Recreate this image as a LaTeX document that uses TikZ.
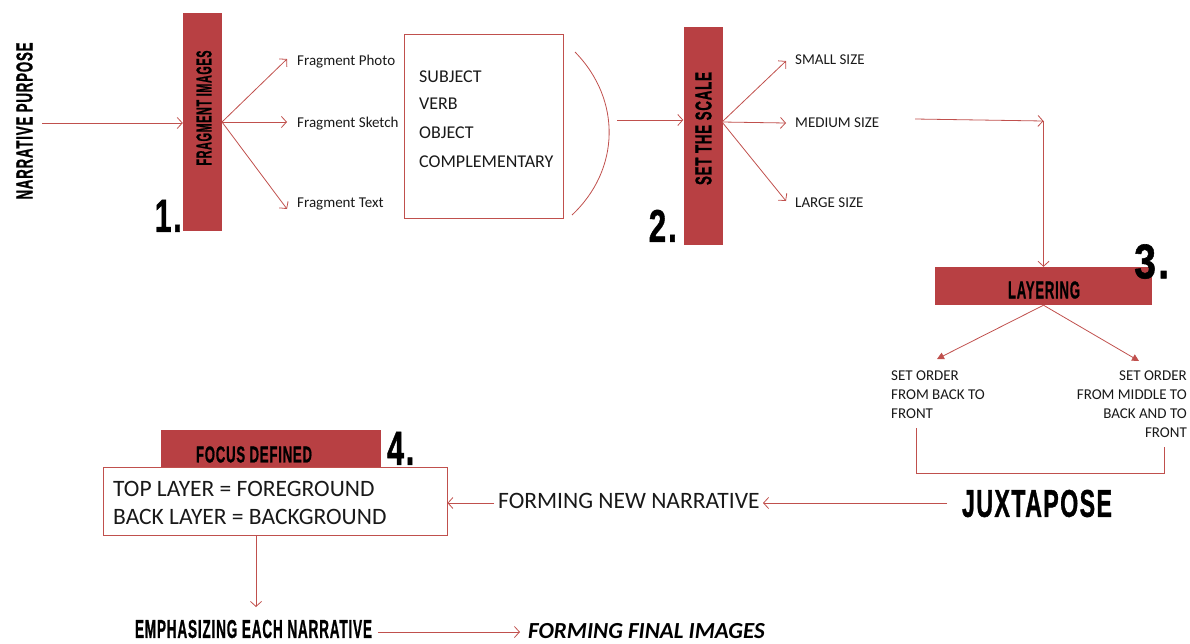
\documentclass[tikz,border=0pt]{standalone}
\usepackage{fontspec}
\setmainfont{Carlito}
\newfontfamily\headf{Liberation Sans}[LetterSpace=6,BoldFeatures={FakeBold=1.2}]
\usetikzlibrary{arrows.meta}
\definecolor{barred}{RGB}{184,64,67}
\definecolor{linered}{RGB}{192,80,77}
\definecolor{txt}{RGB}{25,25,25}
\newcommand{\hd}[3]{\resizebox{#1pt}{#2pt}{\headf\bfseries #3}}
\begin{document}
\begin{tikzpicture}[x=1pt,y=-1pt,
  conn/.style={draw=linered, line width=0.8pt, -{Straight Barb[length=5pt,width=11pt]}},
  tri/.style={draw=linered, line width=0.8pt, -{Triangle[length=7pt,width=7pt]}},
  plain/.style={draw=linered, line width=0.8pt},
  bar/.style={fill=barred, draw=none, inner sep=0pt},
  rbox/.style={draw=linered, line width=0.8pt, inner sep=0pt},
  lbl/.style={inner sep=0pt, text=txt, font=\fontsize{15}{19}\selectfont},
  big/.style={inner sep=0pt, text=txt, font=\fontsize{18}{28}\selectfont},
  huge/.style={inner sep=0pt, text=txt, font=\fontsize{23.5}{28}\selectfont},
  hdg/.style={inner sep=0pt, text=black}]
\useasboundingbox (0,0) rectangle (1190,643);

% ---- step 1
\node[hdg, rotate=90] (np) at (24.5,121) {\hd{157}{16}{NARRATIVE PURPOSE}};
\node[bar, minimum width=39pt, minimum height=218pt] (b1) at (202.5,122) {};
\node[hdg, rotate=90] (t1) at (204,108) {\hd{115}{15}{FRAGMENT IMAGES}};
\node[hdg, anchor=south east] (n1) at (182,232) {\hd{27}{32}{1.}};
\coordinate (npE) at (42,123);
\coordinate (b1W) at (b1.west |- npE);
\draw[conn] (npE) -- (b1W);
\coordinate (b1E) at (222,122);
\node[lbl, anchor=base west] (fp) at (297,65) {Fragment Photo};
\node[lbl, anchor=base west] (fs) at (297,127) {Fragment Sketch};
\node[lbl, anchor=base west] (ft) at (297,207) {Fragment Text};
\coordinate (fpW) at (287,59);
\coordinate (fsW) at (287,122);
\coordinate (ftW) at (287,209);
\draw[conn] (b1E) -- (fpW);
\draw[conn] (b1E) -- (fsW);
\draw[conn] (b1E) -- (ftW);

% ---- sentence box
\node[rbox, minimum width=159pt, minimum height=184pt] (sv) at (483.5,126) {};
\node[big, anchor=base west] (s1) at (419,82) {SUBJECT};
\node[big, anchor=base west] (s2) at (419,109) {VERB};
\node[big, anchor=base west] (s3) at (419,138) {OBJECT};
\node[big, anchor=base west] (s4) at (419,167) {COMPLEMENTARY};
\coordinate (arcA) at (575,52);
\coordinate (arcB) at (572,215);
\draw[plain] (arcA) .. controls (622,100) and (620,170) .. (arcB);

% ---- step 2
\node[bar, minimum width=39pt, minimum height=218pt] (b2) at (703,136) {};
\node[hdg, rotate=90] (t2) at (703.5,128.5) {\hd{113}{16}{SET THE SCALE}};
\node[hdg, anchor=south east] (n2) at (677,242) {\hd{28}{32}{2.}};
\coordinate (arcE) at (617,120);
\coordinate (b2W) at (b2.west |- arcE);
\draw[conn] (arcE) -- (b2W);
\coordinate (b2E) at (722,122);
\node[lbl, anchor=base west] (ss) at (795,64) {SMALL SIZE};
\node[lbl, anchor=base west] (ms) at (795,127) {MEDIUM SIZE};
\node[lbl, anchor=base west] (ls) at (795,207) {LARGE SIZE};
\coordinate (ssW) at (786,61);
\coordinate (msW) at (786,123);
\coordinate (lsW) at (786,201);
\draw[conn] (b2E) -- (ssW);
\draw[conn] (b2E) -- (msW);
\draw[conn] (b2E) -- (lsW);

% ---- step 3
\node[bar, minimum width=217pt, minimum height=38pt] (b3) at (1043.5,286) {};
\node[hdg] (t3) at (1044,290) {\hd{72}{17}{LAYERING}};
\node[hdg, anchor=south west] (n3) at (1134,279) {\hd{35}{34}{3.}};
\coordinate (msE) at (915,119);
\coordinate (corner) at (b3.north |- 0,121);
\draw[conn] (msE) -- (corner);
\draw[conn] (corner) -- (b3.north);
\node[lbl, anchor=north west, align=left, font=\fontsize{15}{19}\selectfont] (oL) at (891,371) {SET ORDER\\FROM BACK TO\\FRONT};
\node[lbl, anchor=north east, align=right, font=\fontsize{15}{19}\selectfont] (oR) at (1187,371) {SET ORDER\\FROM MIDDLE TO\\BACK AND TO\\FRONT};
\coordinate (oLN) at (937,359);
\coordinate (oRN) at (1139,361);
\draw[tri] (b3.south) -- (oLN);
\draw[tri] (b3.south) -- (oRN);
\coordinate (brL) at (916,428);
\coordinate (brR) at (1164,447);
\draw[plain] (brL) -- (916,473) -- (1164,473) -- (brR);
\node[hdg] (jx) at (1037,503.5) {\hd{150}{27}{JUXTAPOSE}};

% ---- step 4
\node[huge, anchor=base west] (fn) at (498,508) {FORMING NEW NARRATIVE};
\coordinate (jxW) at (947,503);
\coordinate (fnE) at (763,503);
\draw[conn] (jxW) -- (fnE);
\node[bar, minimum width=220pt, minimum height=38pt] (b4) at (271,449) {};
\node[hdg] (t4) at (254,454.5) {\hd{116}{16}{FOCUS DEFINED}};
\node[hdg, anchor=south west] (n4) at (387,465) {\hd{27}{33}{4.}};
\node[rbox, minimum width=344pt, minimum height=68pt] (fb) at (275,501) {};
\node[huge, anchor=base west] (tl) at (113,496) {TOP LAYER = FOREGROUND};
\node[huge, anchor=base west] (bl) at (113,524) {BACK LAYER = BACKGROUND};
\coordinate (fnW) at (494,503);
\draw[conn] (fnW) -- (fb.east |- fnW);
\node[hdg] (em) at (253.5,629) {\hd{237}{18}{EMPHASIZING EACH NARRATIVE}};
\coordinate (fbS) at (256,535);
\coordinate (emN) at (256,607);
\draw[conn] (fbS) -- (emN);
\node[inner sep=0pt, text=black, anchor=base west, font=\fontsize{23}{28}\selectfont\bfseries\itshape] (ff) at (528,638) {FORMING FINAL IMAGES};
\coordinate (emE) at (378,632);
\coordinate (ffW) at (520,632);
\draw[conn] (emE) -- (ffW);
\end{tikzpicture}
\end{document}
